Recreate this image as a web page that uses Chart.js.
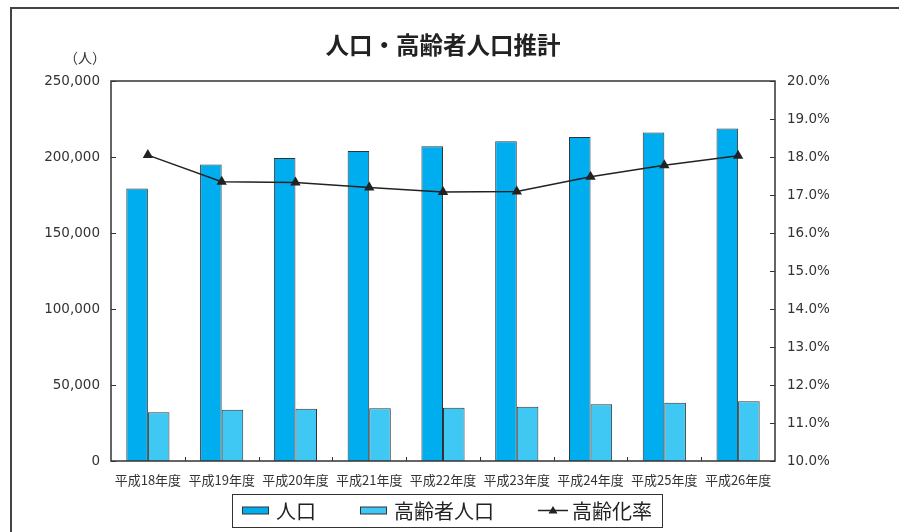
<!DOCTYPE html>
<html>
<head>
<meta charset="utf-8">
<script src="https://cdn.jsdelivr.net/npm/chart.js@4"></script>
<style>
  html, body { margin: 0; padding: 0; background: #fff; overflow: hidden; }
  #wrap { position: absolute; left: 0; top: 0; width: 899px; height: 532px; }
  #frame { position: absolute; left: 10px; top: 7px; width: 1000px; height: 600px; border: 2px solid #444; }
  canvas { position: absolute; left: 0; top: 0; }
</style>
</head>
<body>
<div id="wrap">
  <div id="frame"></div>
  <canvas id="chart" width="899" height="532"></canvas>
</div>
<script>
const years = ["平成18年度", "平成19年度", "平成20年度", "平成21年度", "平成22年度", "平成23年度", "平成24年度", "平成25年度", "平成26年度"];
const population = [179200, 195000, 199300, 204000, 207100, 210300, 213200, 216200, 218700];
const elderly = [32000, 33700, 34400, 34700, 35100, 35700, 37300, 38400, 39300];
const agingRate = [18.05, 17.35, 17.33, 17.2, 17.08, 17.09, 17.48, 17.78, 18.03];

const title = "人口・高齢者人口推計";
const unitLabel = "（人）";

const numFont = { family: "DejaVu Sans", size: 13.5 };
const jpFont = "'Noto Sans CJK JP', sans-serif";
const ink = "#333";

// frame round the plot area and the small inward ticks
const framePlugin = {
  id: "frame",
  afterDatasetsDraw(chart) {
    const { ctx, chartArea: a, scales } = chart;
    ctx.save();
    ctx.strokeStyle = ink;
    ctx.lineWidth = 1.5;
    ctx.strokeRect(a.left, a.top, a.right - a.left, a.bottom - a.top);

    ctx.lineWidth = 1;
    ctx.beginPath();
    scales.y.ticks.forEach(t => {
      const y = Math.round(scales.y.getPixelForValue(t.value)) + 0.5;
      ctx.moveTo(a.left, y);
      ctx.lineTo(a.left + 5, y);
    });
    scales.y1.ticks.forEach(t => {
      const y = Math.round(scales.y1.getPixelForValue(t.value)) + 0.5;
      ctx.moveTo(a.right, y);
      ctx.lineTo(a.right - 5, y);
    });
    for (let i = 0; i < years.length - 1; i++) {
      const x = Math.round((scales.x.getPixelForValue(i) + scales.x.getPixelForValue(i + 1)) / 2) + 0.5;
      ctx.moveTo(x, a.bottom);
      ctx.lineTo(x, a.bottom - 4);
    }
    ctx.stroke();
    ctx.restore();
  },
  afterDraw(chart) {
    const { ctx, chartArea: a } = chart;
    ctx.save();
    ctx.fillStyle = "#222";
    ctx.textAlign = "center";
    ctx.textBaseline = "middle";
    ctx.font = "bold 23.5px " + jpFont;
    ctx.fillText(title, (a.left + a.right) / 2, 45);

    ctx.fillStyle = ink;
    ctx.font = "14px " + jpFont;
    ctx.textAlign = "right";
    ctx.fillText(unitLabel, a.left - 5, 58);

    // legend
    ctx.font = "20px " + jpFont;
    ctx.textAlign = "left";
    const ds = chart.data.datasets;
    const sw = 27, gapText = 7, gapItem = 44, pad = 10;
    const items = [ds[1], ds[2], ds[0]];
    let total = pad * 2;
    items.forEach((d, i) => {
      total += sw + gapText + ctx.measureText(d.label).width + (i < items.length - 1 ? gapItem : 0);
    });
    const boxTop = 494, boxH = 33;
    let x = Math.round((a.left + a.right) / 2 + 4 - total / 2);
    ctx.strokeStyle = ink;
    ctx.lineWidth = 1;
    ctx.strokeRect(x + 0.5, boxTop + 0.5, Math.round(total), boxH);
    const cy = boxTop + boxH / 2;
    x += pad;
    items.forEach(d => {
      if (d.type === "line") {
        ctx.strokeStyle = d.borderColor;
        ctx.lineWidth = 1.5;
        ctx.beginPath();
        ctx.moveTo(x, cy);
        ctx.lineTo(x + sw + 3, cy);
        ctx.stroke();
        ctx.fillStyle = d.borderColor;
        ctx.beginPath();
        const mx = x + (sw + 3) / 2;
        ctx.moveTo(mx, cy - 4.5);
        ctx.lineTo(mx + 4.5, cy + 3);
        ctx.lineTo(mx - 4.5, cy + 3);
        ctx.closePath();
        ctx.fill();
      } else {
        ctx.fillStyle = d.backgroundColor;
        ctx.fillRect(x, cy - 3.5, sw, 7);
        ctx.strokeStyle = ink;
        ctx.lineWidth = 1;
        ctx.strokeRect(x + 0.5, cy - 3.5, sw - 1, 7);
      }
      x += sw + gapText;
      ctx.fillStyle = "#222";
      ctx.fillText(d.label, x, cy + 1);
      x += ctx.measureText(d.label).width + gapItem;
    });
    ctx.restore();
  }
};

new Chart(document.getElementById("chart"), {
  data: {
    labels: years,
    datasets: [
      {
        type: "line",
        label: "高齢化率",
        data: agingRate,
        yAxisID: "y1",
        borderColor: "#222",
        backgroundColor: "#222",
        borderWidth: 1.5,
        pointStyle: "triangle",
        pointRadius: 4.5,
        tension: 0,
        order: 0
      },
      {
        type: "bar",
        label: "人口",
        data: population,
        yAxisID: "y",
        backgroundColor: "#00AEEF",
        borderColor: ink,
        borderWidth: 1,
        categoryPercentage: 0.585,
        barPercentage: 1.0,
        order: 1
      },
      {
        type: "bar",
        label: "高齢者人口",
        data: elderly,
        yAxisID: "y",
        backgroundColor: "#40C8F4",
        borderColor: ink,
        borderWidth: 1,
        categoryPercentage: 0.585,
        barPercentage: 1.0,
        order: 1
      }
    ]
  },
  options: {
    responsive: false,
    animation: false,
    layout: { padding: { top: 81, left: 0, right: 0, bottom: 0 } },
    plugins: {
      legend: { display: false },
      title: { display: false },
      tooltip: { enabled: false }
    },
    scales: {
      x: {
        grid: { display: false, drawTicks: false },
        border: { display: false },
        ticks: { color: ink, font: { family: jpFont, size: 13 }, padding: 11, maxRotation: 0 },
        afterFit(scale) { scale.height = 71; }
      },
      y: {
        position: "left",
        min: 0,
        max: 250000,
        grid: { display: false, drawTicks: false },
        border: { display: false },
        ticks: {
          stepSize: 50000,
          color: ink,
          font: numFont,
          padding: 11,
          callback: v => v.toLocaleString("en-US")
        },
        afterFit(scale) { scale.width = 111; }
      },
      y1: {
        position: "right",
        min: 10,
        max: 20,
        grid: { display: false, drawTicks: false },
        border: { display: false },
        ticks: {
          stepSize: 1,
          color: ink,
          font: numFont,
          padding: 12,
          callback: v => v.toFixed(1) + "%"
        },
        afterFit(scale) { scale.width = 124; }
      }
    }
  },
  plugins: [framePlugin]
});
</script>
</body>
</html>
